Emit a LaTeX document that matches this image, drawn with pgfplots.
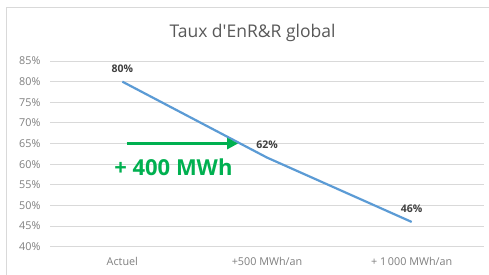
\documentclass[border=0pt]{standalone}
\usepackage{pgfplots}
\pgfplotsset{compat=1.18}
\usetikzlibrary{arrows.meta}
\usepackage{fontspec}
\setmainfont{Open Sans}
\definecolor{gridc}{HTML}{D9D9D9}
\definecolor{tickc}{HTML}{7F7F7F}
\definecolor{linec}{HTML}{5B9BD5}
\definecolor{greenc}{HTML}{00B050}
\definecolor{labc}{HTML}{404040}
\definecolor{titc}{HTML}{595959}
\begin{document}
\begin{tikzpicture}
\useasboundingbox (0,0) rectangle (489bp,275bp);
\fill[white] (0,0) rectangle (489bp,275bp);
\draw[gridc, line width=1bp] (6bp,0) -- (6bp,267bp) -- (489bp,267bp);
\begin{axis}[
  at={(50bp,28.3bp)}, anchor=south west,
  scale only axis, width=434bp, height=185.7bp,
  xmin=-0.5, xmax=2.5, ymin=40, ymax=85,
  axis line style={draw=none},
  clip=false,
  xtick={0,1,2},
  xticklabels={Actuel,+500 MWh/an,+ 1\,000 MWh/an},
  ytick={40,45,...,85},
  yticklabel={\pgfmathprintnumber{\tick}\%},
  /pgf/number format/assume math mode=true,
  major tick length=0pt,
  ymajorgrids, grid style={gridc, line width=1bp},
  ticklabel style={font=\fontsize{10.8bp}{12bp}\selectfont, text=tickc},
  yticklabel style={xshift=-6bp},
  xticklabel style={yshift=-7bp},
]
\addplot[linec, line width=2.2bp, mark=none,
  point meta=explicit symbolic,
  nodes near coords,
  every node near coord/.append style={anchor=south, yshift=5bp, font=\bfseries\fontsize{10.5bp}{12bp}\selectfont, text=labc}]
  coordinates {(0,80) [80\%] (1,61.6) [62\%] (2,46) [46\%]};
\draw[greenc, line width=3bp, -{Triangle[length=11bp,width=11bp]}] (axis cs:0.03,65) -- (axis cs:0.80,65);
\node[text=greenc, font=\bfseries\fontsize{22bp}{24bp}\selectfont] at (axis cs:0.353,59.3) {+ 400 MWh};
\end{axis}
\node[text=titc, font=\fontsize{17.5bp}{20bp}\selectfont] at (252.5bp,242bp) {Taux d\textquotesingle EnR\&R global};
\end{tikzpicture}
\end{document}
